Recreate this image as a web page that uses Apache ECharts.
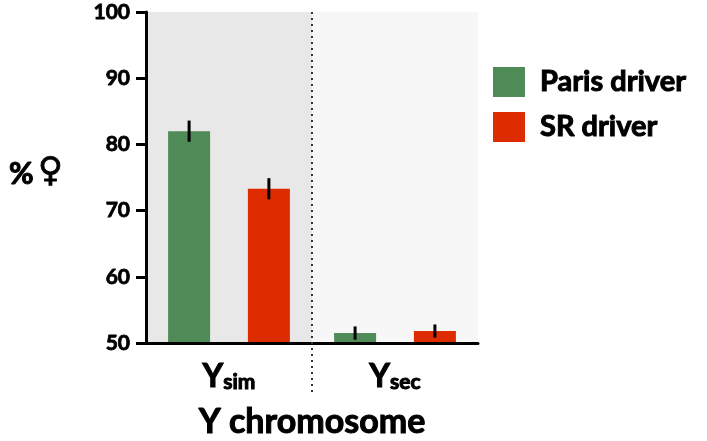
<!DOCTYPE html>
<html>
<head>
<meta charset="utf-8">
<script src="https://cdn.jsdelivr.net/npm/echarts@6/dist/echarts.min.js"></script>
<style>
html,body{margin:0;padding:0;background:#fff;}
#c{width:707px;height:441px;}
</style>
</head>
<body>
<div id="c"></div>
<script>
const categories = ['Ysim', 'Ysec'];
const subLabels = ['sim', 'sec'];
const seriesNames = ['Paris driver', 'SR driver'];
const parisValues = [82.0, 51.5];
const parisErrors = [1.6, 1.0];
const srValues = [73.3, 51.8];
const srErrors = [1.6, 1.0];
const yTicks = [50, 60, 70, 80, 90, 100];

const FONT = 'Lato, "Noto Sans", sans-serif';
const W = 'bold';
const HEAVY = { textBorderColor: '#000', textBorderWidth: 1 };
const GREEN = '#4f8b57';
const RED = '#de2c00';
const BAR_W = 42;
const BAR_GAP = 0.9;
const OFFSET = BAR_W * (1 + BAR_GAP) / 2;

function errSeries(vals, errs, sign) {
  return {
    type: 'custom',
    z: 5,
    silent: true,
    data: vals.map((v, i) => [i, v, errs[i]]),
    renderItem: function (params, api) {
      const i = api.value(0), v = api.value(1), e = api.value(2);
      const top = api.coord([i, v + e]);
      const bot = api.coord([i, v - e]);
      const x = top[0] + sign * OFFSET;
      return {
        type: 'line',
        shape: { x1: x, y1: top[1], x2: x, y2: bot[1] },
        style: { stroke: '#000', lineWidth: 3 }
      };
    }
  };
}

const chart = echarts.init(document.getElementById('c'));
chart.setOption({
  animation: false,
  textStyle: { fontFamily: FONT },
  title: {
    text: '{a|%} {b|\u2640}',
    left: 4,
    top: 150,
    textStyle: {
      rich: {
        a: Object.assign({ fontFamily: FONT, fontSize: 30, fontWeight: W, color: '#000', verticalAlign: 'bottom' }, HEAVY),
        b: { fontFamily: '"DejaVu Sans", sans-serif', fontSize: 34, fontWeight: 'bold', color: '#000', verticalAlign: 'bottom', textBorderColor: '#000', textBorderWidth: 0.8 }
      }
    }
  },
  legend: {
    data: seriesNames,
    orient: 'vertical',
    left: 488,
    top: 62,
    itemWidth: 32,
    itemHeight: 30,
    itemGap: 15,
    icon: 'rect',
    textStyle: Object.assign({ fontFamily: FONT, fontSize: 29, fontWeight: W, color: '#000', padding: [0, 0, 0, 10] }, HEAVY)
  },
  grid: { left: 146, right: 229, top: 12, bottom: 98, outerBoundsMode: 'none', containLabel: false },
  xAxis: [{
    type: 'category',
    data: categories,
    z: 10,
    axisLine: { lineStyle: { color: '#000', width: 3 } },
    axisTick: { show: false },
    splitArea: { show: false },
    axisLabel: {
      margin: 18,
      formatter: function (v, i) { return '{Y|Y}{s|' + subLabels[i] + '}'; },
      rich: {
        Y: Object.assign({ fontFamily: FONT, fontSize: 32, fontWeight: W, color: '#000', verticalAlign: 'bottom', lineHeight: 32 }, HEAVY),
        s: Object.assign({ fontFamily: FONT, fontSize: 21, fontWeight: W, color: '#000', verticalAlign: 'bottom', lineHeight: 28 }, HEAVY)
      }
    },
    name: 'Y chromosome',
    nameLocation: 'middle',
    nameGap: 62,
    nameTextStyle: Object.assign({ fontFamily: FONT, fontSize: 34, fontWeight: W, color: '#000' }, HEAVY)
  }, {
    type: 'category',
    data: categories,
    position: 'bottom',
    z: 0,
    axisLine: { show: false },
    axisTick: { show: false },
    axisLabel: { show: false },
    splitArea: { show: true, areaStyle: { color: ['#e8e8e8', '#f7f7f7'] } }
  }],
  yAxis: {
    type: 'value',
    min: 50,
    max: 100,
    interval: 10,
    z: 10,
    axisLine: { show: true, lineStyle: { color: '#000', width: 3 } },
    axisTick: { show: true, length: 10, lineStyle: { color: '#000', width: 3 } },
    splitLine: { show: false },
    axisLabel: Object.assign({
      margin: 16,
      fontFamily: FONT, fontSize: 21, fontWeight: W, color: '#000',
      formatter: function (v) { return yTicks.indexOf(v) >= 0 ? String(v) : ''; }
    }, { textBorderColor: '#000', textBorderWidth: 0.8 })
  },
  series: [
    { name: seriesNames[0], type: 'bar', data: parisValues, barWidth: BAR_W, barGap: '90%', itemStyle: { color: GREEN } },
    { name: seriesNames[1], type: 'bar', data: srValues, barWidth: BAR_W, itemStyle: { color: RED } },
    errSeries(parisValues, parisErrors, -1),
    errSeries(srValues, srErrors, 1)
  ]
});

// dotted separator between the two categories, positioned via the axis scales
const p0 = chart.convertToPixel({ xAxisIndex: 0 }, categories[0]);
const p1 = chart.convertToPixel({ xAxisIndex: 0 }, categories[1]);
const sepX = (p0 + p1) / 2;
const yTop = chart.convertToPixel({ yAxisIndex: 0 }, 100);
const yBot = chart.convertToPixel({ yAxisIndex: 0 }, 50);
chart.setOption({
  graphic: [{
    type: 'line',
    z: 20,
    silent: true,
    shape: { x1: sepX, y1: yTop, x2: sepX, y2: yBot + 50 },
    style: { stroke: '#333', lineWidth: 2, lineDash: [2, 4] }
  }]
});
</script>
</body>
</html>
